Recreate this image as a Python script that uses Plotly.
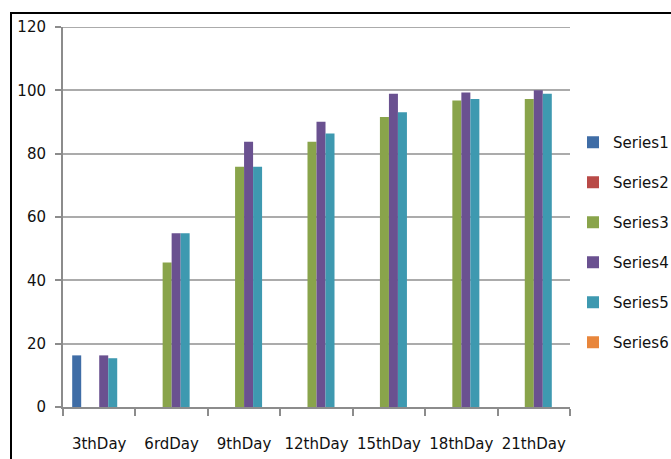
import plotly.graph_objects as go

days = ["3thDay", "6rdDay", "9thDay", "12thDay", "15thDay", "18thDay", "21thDay"]

series1 = [16.3, None, None, None, None, None, None]
series2 = [0, 0, 0, 0, 0, 0, 0]
series3 = [None, 45.6, 75.9, 83.8, 91.6, 96.8, 97.3]
series4 = [16.3, 54.9, 83.8, 90.1, 98.9, 99.3, 100.0]
series5 = [15.4, 54.9, 75.9, 86.4, 93.1, 97.3, 98.9]
series6 = [0, 0, 0, 0, 0, 0, 0]

names = ["Series1", "Series2", "Series3", "Series4", "Series5", "Series6"]
values = [series1, series2, series3, series4, series5, series6]
colors = ["#3F6DA6", "#B94A47", "#89A44B", "#6A5190", "#3E99B0", "#E8863C"]

FONT = "DejaVu Sans"
Y_MAX = 120

fig = go.Figure()
for name, vals, col in zip(names, values, colors):
    fig.add_trace(go.Bar(
        x=days, y=vals, name=name, legendgroup=name,
        marker=dict(color=col, line=dict(width=0)),
    ))

W, H = 671, 459
L, R, T, B = 63, 101, 27, 52
pw, ph = W - L - R, H - T - B

def px_x(p):
    return (p - L) / pw

def px_y(p):
    return (H - B - p) / ph

fig.update_layout(
    width=W, height=H,
    margin=dict(l=L, r=R, t=T, b=B, autoexpand=False),
    paper_bgcolor="white", plot_bgcolor="white",
    barmode="group", bargap=0.254, bargroupgap=0,
    font=dict(family=FONT, size=15, color="#111111"),
    showlegend=True,
    legend=dict(
        x=px_x(573), y=px_y(126), xanchor="left", yanchor="top",
        font=dict(family=FONT, size=15, color="#111111"),
        tracegroupgap=17.5, bgcolor="rgba(0,0,0,0)",
        itemwidth=30,
    ),
    xaxis=dict(
        type="category", tickson="boundaries", ticks="outside",
        ticklen=7, tickcolor="#8c8c8c", tickwidth=2,
        showline=True, linecolor="#8c8c8c", linewidth=2,
        showgrid=False, ticklabelstandoff=22, tickangle=0,
        automargin=False,
        tickfont=dict(family=FONT, size=15, color="#111111"),
    ),
    yaxis=dict(
        range=[0, Y_MAX], dtick=20, tick0=0,
        ticks="outside", ticklen=6, tickcolor="#8c8c8c", tickwidth=2,
        showline=True, linecolor="#8c8c8c", linewidth=2,
        showgrid=True, gridcolor="#ababab", gridwidth=2,
        zeroline=False, ticklabelstandoff=6, automargin=False,
        tickfont=dict(family=FONT, size=15, color="#111111"),
    ),
    shapes=[
        # gridline at the top of the value axis
        dict(type="line", xref="paper", yref="y", x0=0, x1=1,
             y0=Y_MAX, y1=Y_MAX, line=dict(color="#ababab", width=2),
             layer="below"),
        # outer frame around the chart
        dict(type="rect", xref="paper", yref="paper",
             x0=px_x(11), x1=px_x(700), y0=px_y(500), y1=px_y(13),
             line=dict(color="black", width=2), fillcolor="rgba(0,0,0,0)",
             layer="above"),
    ],
)

fig.write_html("out.html", config={"displayModeBar": False})
